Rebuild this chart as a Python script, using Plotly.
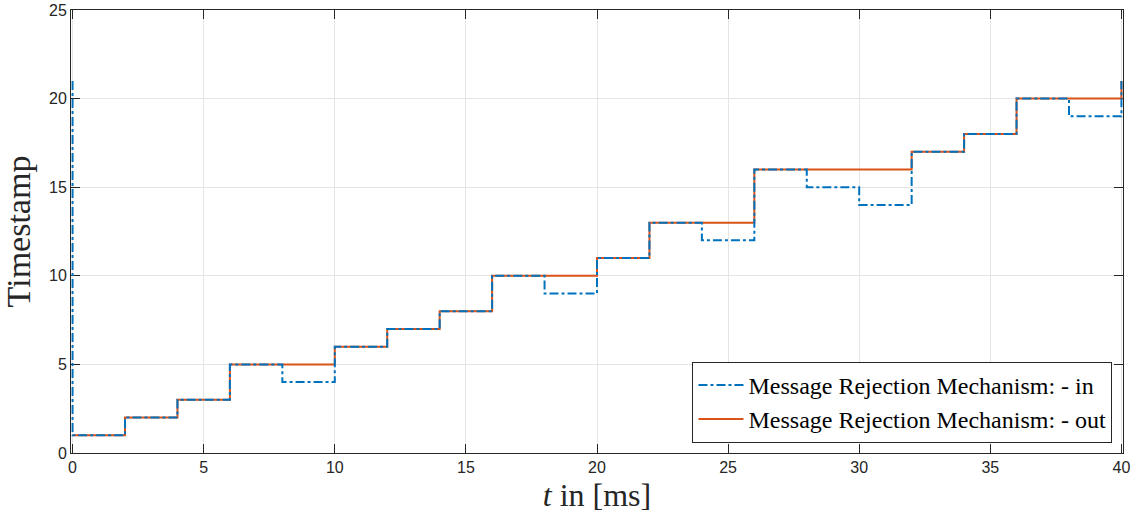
import plotly.graph_objects as go

# step times (ms); first point duplicated at t=0 for initial spike
t_in = [0, 0, 2, 4, 6, 8, 10, 12, 14, 16, 18, 20, 22, 24, 26, 28, 30, 32, 34, 36, 38, 40, 40]
ts_in = [21, 1, 2, 3, 5, 4, 6, 7, 8, 10, 9, 11, 13, 12, 16, 15, 14, 17, 18, 20, 19, 19, 21]

t_out = [0, 2, 4, 6, 8, 10, 12, 14, 16, 18, 20, 22, 24, 26, 28, 30, 32, 34, 36, 38, 40, 40]
ts_out = [1, 2, 3, 5, 5, 6, 7, 8, 10, 10, 11, 13, 13, 16, 16, 16, 17, 18, 20, 20, 20, 21]

x_ticks = [0, 5, 10, 15, 20, 25, 30, 35, 40]
y_ticks = [0, 5, 10, 15, 20, 25]

fig = go.Figure()
fig.add_trace(go.Scatter(
    x=t_out, y=ts_out, mode="lines", line_shape="hv", cliponaxis=False,
    name="Message Rejection Mechanism: - out",
    line=dict(color="#D95319", width=2),
))
fig.add_trace(go.Scatter(
    x=t_in, y=ts_in, mode="lines", line_shape="hv", cliponaxis=False,
    name="Message Rejection Mechanism: - in",
    line=dict(color="#0072BD", width=2, dash="dashdot"),
))

axis_common = dict(
    showline=True, linecolor="#262626", linewidth=1, mirror="allticks",
    ticks="inside", ticklen=9, tickcolor="#262626", automargin=False,
    layer="below traces",
    showgrid=True, gridcolor="#E5E5E5", gridwidth=1, zeroline=False,
    tickfont=dict(family="Liberation Sans, Arial", size=16, color="#262626"),
)

fig.update_layout(
    width=1145, height=523,
    margin=dict(l=71, r=22, t=10, b=70),
    plot_bgcolor="white", paper_bgcolor="white",
    xaxis=dict(range=[-0.06, 40.06], tickvals=x_ticks,
               title=dict(text="<i>t</i> in [ms]", standoff=8,
                          font=dict(family="Liberation Serif, Times New Roman", size=32, color="#262626")),
               **axis_common),
    yaxis=dict(range=[0, 25], tickvals=y_ticks,
               title=dict(text="Timestamp", standoff=12,
                          font=dict(family="Liberation Serif, Times New Roman", size=34, color="#262626")),
               **axis_common),
    legend=dict(
        x=0.990, y=0.023, xanchor="right", yanchor="bottom",
        bgcolor="white", bordercolor="#262626", borderwidth=1,
        font=dict(family="Liberation Serif, Times New Roman", size=24, color="black"),
        traceorder="reversed", tracegroupgap=0, itemwidth=45,
    ),
)

fig.write_html("out.html")
